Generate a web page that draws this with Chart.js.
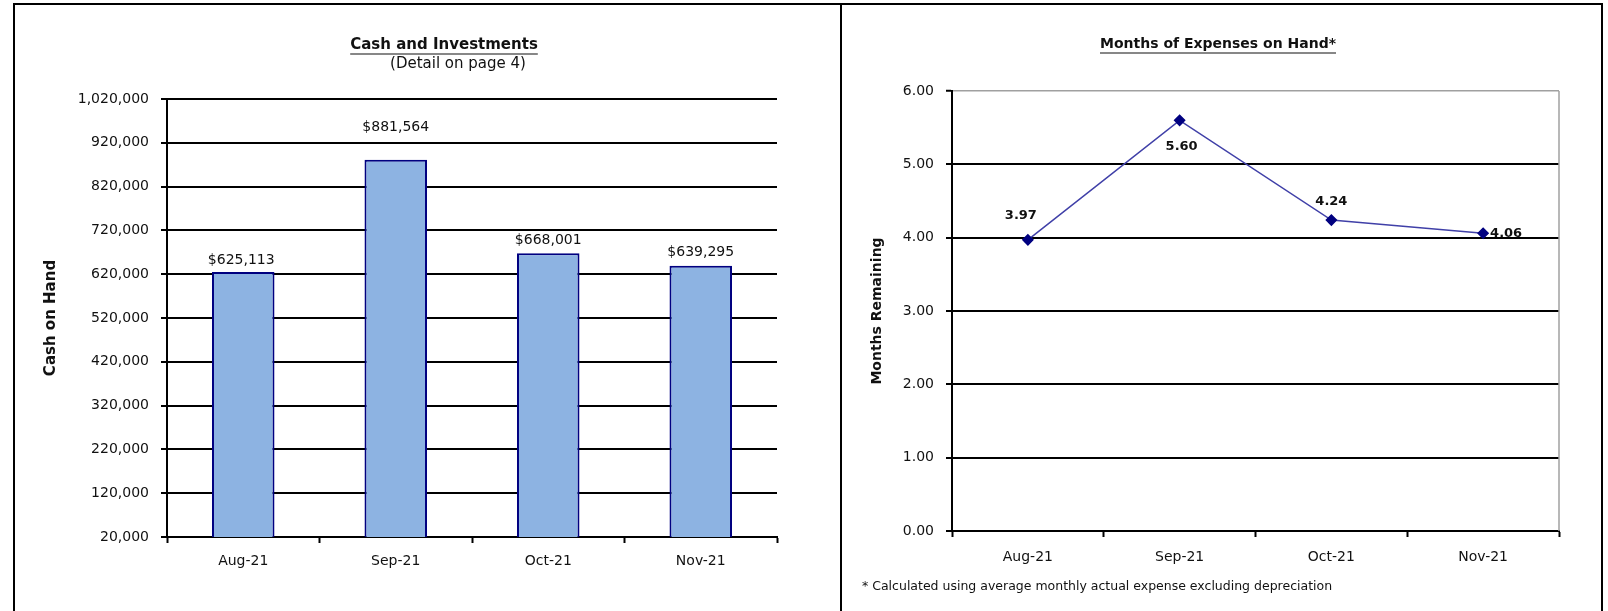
<!DOCTYPE html>
<html>
<head>
<meta charset="utf-8">
<script src="https://cdn.jsdelivr.net/npm/chart.js@4.4.1/dist/chart.umd.min.js"></script>
<style>
  html, body { margin: 0; padding: 0; background: #fff; overflow: hidden; }
  .frame { position: absolute; left: 13px; top: 3px; width: 1586px; height: 700px; border: 2px solid #000; }
  .divider { position: absolute; left: 840px; top: 3px; width: 2px; height: 700px; background: #000; }
  .panel { position: absolute; top: 6px; height: 605px; }
  #cashPanel { left: 16px; width: 824px; }
  #monthsPanel { left: 843px; width: 757px; }
</style>
</head>
<body>
<div class="frame"></div>
<div class="divider"></div>
<div class="panel" id="cashPanel"><canvas id="cashChart"></canvas></div>
<div class="panel" id="monthsPanel"><canvas id="monthsChart"></canvas></div>

<script>
// --- Data ---
const months = ['Aug-21', 'Sep-21', 'Oct-21', 'Nov-21'];
const cashValues = [625113, 881564, 668001, 639295];
const cashMin = 20000, cashMax = 1020000, cashStep = 100000;
const monthsOnHand = [3.97, 5.60, 4.24, 4.06];
const monthsMin = 0, monthsMax = 6, monthsStep = 1;

const FONT = 'DejaVu Sans';
const INK = '#111';

// --- Helpers ---
// fixed text (titles, footnote) drawn onto the canvas
function makeTexts(id, items) {
    return {
        id: id,
        afterDraw(chart) {
            const ctx = chart.ctx;
            ctx.save();
            items.forEach(t => {
                ctx.font = t.font;
                ctx.fillStyle = INK;
                ctx.textAlign = t.align || 'center';
                ctx.textBaseline = 'middle';
                ctx.fillText(t.text, t.x, t.y);
                if (t.underline) {
                    const w = ctx.measureText(t.text).width;
                    const x0 = t.align === 'left' ? t.x : t.x - w / 2;
                    ctx.strokeStyle = INK;
                    ctx.lineWidth = 1.2;
                    ctx.beginPath();
                    ctx.moveTo(x0, t.y + 9);
                    ctx.lineTo(x0 + w, t.y + 9);
                    ctx.stroke();
                }
            });
            ctx.restore();
        }
    };
}

// value labels next to each bar / point
function makeValueLabels(id, format, font, offsets) {
    return {
        id: id,
        afterDatasetsDraw(chart) {
            const ctx = chart.ctx;
            const meta = chart.getDatasetMeta(0);
            const data = chart.data.datasets[0].data;
            ctx.save();
            ctx.font = font;
            ctx.fillStyle = INK;
            ctx.textAlign = 'center';
            ctx.textBaseline = 'middle';
            meta.data.forEach((el, i) => {
                const off = offsets[i];
                ctx.fillText(format(data[i]), el.x + off[0], el.y + off[1]);
            });
            ctx.restore();
        }
    };
}

// --- Cash and Investments ---
new Chart(document.getElementById('cashChart').getContext('2d'), {
    type: 'bar',
    data: {
        labels: months,
        datasets: [{
            data: cashValues,
            backgroundColor: '#8DB3E2',
            borderColor: '#000080',
            borderWidth: 2,
            barPercentage: 0.41,
            categoryPercentage: 1
        }]
    },
    options: {
        responsive: true,
        maintainAspectRatio: false,
        animation: false,
        events: [],
        layout: { padding: { left: 22, right: 63, top: 93, bottom: 24 } },
        plugins: { legend: { display: false }, tooltip: { enabled: false } },
        scales: {
            x: {
                grid: { drawOnChartArea: false, offset: true, tickLength: 6, tickColor: '#000', tickWidth: 2 },
                border: { color: '#000', width: 2 },
                ticks: { color: INK, font: { family: FONT, size: 14 }, padding: 10, maxRotation: 0 },
                afterFit: s => { s.height = 50; }
            },
            y: {
                min: cashMin,
                max: cashMax,
                grid: { color: '#000', lineWidth: 2, tickLength: 6, tickColor: '#000', tickWidth: 2 },
                border: { color: '#000', width: 2 },
                ticks: {
                    stepSize: cashStep,
                    color: INK,
                    font: { family: FONT, size: 14 },
                    padding: 12,
                    callback: v => v.toLocaleString('en-US')
                },
                title: { display: true, text: 'Cash on Hand', color: INK, font: { family: FONT, size: 15, weight: 'bold' } },
                afterFit: s => { s.width = 129; }
            }
        }
    },
    plugins: [
        makeTexts('cashTitles', [
            { text: 'Cash and Investments', x: 428, y: 39, font: 'bold 15px ' + FONT, underline: true },
            { text: '(Detail on page 4)', x: 442, y: 58, font: '15px ' + FONT }
        ]),
        makeValueLabels('cashLabels', v => '$' + v.toLocaleString('en-US'), '14px ' + FONT,
            [[-2, -12], [0, -32], [0, -13], [0, -13]])
    ]
});

// --- Months of Expenses on Hand ---
const frameRight = {
    id: 'frameRight',
    beforeDatasetsDraw(chart) {
        const a = chart.chartArea, ctx = chart.ctx;
        ctx.save();
        ctx.strokeStyle = '#a0a0a0';
        ctx.lineWidth = 1.5;
        ctx.beginPath();
        ctx.moveTo(a.right, a.top);
        ctx.lineTo(a.right, a.bottom);
        ctx.stroke();
        ctx.restore();
    }
};

new Chart(document.getElementById('monthsChart').getContext('2d'), {
    type: 'line',
    data: {
        labels: months,
        datasets: [{
            data: monthsOnHand,
            borderColor: '#4040A8',
            borderWidth: 1.5,
            pointStyle: 'rectRot',
            pointRadius: 5,
            pointBackgroundColor: '#000080',
            pointBorderColor: '#000080',
            tension: 0
        }]
    },
    options: {
        responsive: true,
        maintainAspectRatio: false,
        animation: false,
        events: [],
        layout: { padding: { left: 22, right: 41, top: 85, bottom: 30 } },
        plugins: { legend: { display: false }, tooltip: { enabled: false } },
        scales: {
            x: {
                offset: true,
                grid: { drawOnChartArea: false, offset: true, tickLength: 6, tickColor: '#000', tickWidth: 2 },
                border: { color: '#000', width: 2 },
                ticks: { color: INK, font: { family: FONT, size: 14 }, padding: 12, maxRotation: 0 },
                afterFit: s => { s.height = 50; }
            },
            y: {
                min: monthsMin,
                max: monthsMax,
                grid: {
                    color: c => (c.tick && c.tick.value === monthsMax) ? '#a0a0a0' : '#000',
                    lineWidth: c => (c.tick && c.tick.value === monthsMax) ? 1.5 : 2,
                    tickLength: 6, tickColor: '#000', tickWidth: 2
                },
                border: { color: '#000', width: 2 },
                ticks: {
                    stepSize: monthsStep,
                    color: INK,
                    font: { family: FONT, size: 14 },
                    padding: 12,
                    callback: v => v.toFixed(2)
                },
                title: { display: true, text: 'Months Remaining', color: INK, font: { family: FONT, size: 14, weight: 'bold' } },
                afterFit: s => { s.width = 87; }
            }
        }
    },
    plugins: [
        frameRight,
        makeTexts('monthsTitles', [
            { text: 'Months of Expenses on Hand*', x: 375, y: 38, font: 'bold 14px ' + FONT, underline: true },
            { text: '* Calculated using average monthly actual expense excluding depreciation', x: 19, y: 581, font: '12.5px ' + FONT, align: 'left' }
        ]),
        makeValueLabels('monthsLabels', v => v.toFixed(2), 'bold 13px ' + FONT,
            [[-7, -24], [2, 26], [0, -18], [23, 0]])
    ]
});
</script>
</body>
</html>
